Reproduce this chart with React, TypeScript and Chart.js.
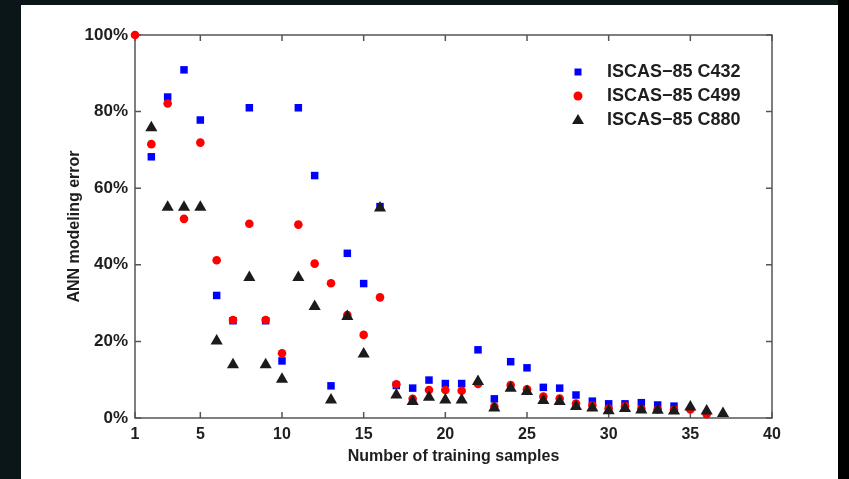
import React, { useEffect, useRef } from 'react';
import { Chart, registerables } from 'chart.js';

Chart.register(...registerables);

// ---- data ----
const xTickValues = [1, 5, 10, 15, 20, 25, 30, 35, 40];
const yTickValues = [0, 20, 40, 60, 80, 100];

const seriesNames = ['ISCAS\u221285 C432', 'ISCAS\u221285 C499', 'ISCAS\u221285 C880'];

const c432X = [2, 3, 4, 5, 6, 7, 8, 9, 10, 11, 12, 13, 14, 15, 16, 17, 18, 19, 20, 21, 22, 23, 24, 25, 26, 27, 28, 29, 30, 31, 32, 33, 34];
const c432Y = [68.2, 83.8, 90.9, 77.8, 32.0, 25.4, 81.0, 25.4, 14.9, 81.0, 63.3, 8.4, 43.0, 35.1, 55.2, 8.5, 7.8, 9.9, 9.0, 9.0, 17.8, 5.0, 14.7, 13.1, 8.0, 7.8, 6.0, 4.4, 3.7, 3.7, 4.0, 3.4, 3.1];

const c499X = [1, 2, 3, 4, 5, 6, 7, 8, 9, 10, 11, 12, 13, 14, 15, 16, 17, 18, 19, 20, 21, 22, 23, 24, 25, 26, 27, 28, 29, 30, 31, 32, 33, 34, 35, 36];
const c499Y = [100, 71.5, 82.1, 52.0, 71.9, 41.2, 25.6, 50.7, 25.6, 16.9, 50.5, 40.3, 35.2, 26.9, 21.7, 31.5, 8.8, 5.0, 7.3, 7.3, 7.1, 8.9, 3.0, 8.6, 7.5, 5.6, 5.1, 3.8, 3.3, 2.5, 3.1, 2.4, 2.2, 2.2, 2.2, 1.0];

const c880X = [2, 3, 4, 5, 6, 7, 8, 9, 10, 11, 12, 13, 14, 15, 16, 17, 18, 19, 20, 21, 22, 23, 24, 25, 26, 27, 28, 29, 30, 31, 32, 33, 34, 35, 36, 37];
const c880Y = [75.8, 55.0, 55.0, 55.0, 20.1, 13.9, 36.7, 13.9, 10.1, 36.7, 29.1, 4.7, 26.5, 16.7, 54.8, 6.0, 4.3, 5.4, 4.7, 4.7, 9.5, 2.6, 7.8, 6.9, 4.6, 4.3, 3.0, 2.6, 1.9, 2.5, 2.1, 2.0, 1.8, 2.9, 1.8, 1.2];

// ---- styles ----
const FONT = 'Liberation Sans, Arial, Helvetica, sans-serif';
const TEXT = '#1e1e1e';
const FRAME = '#555555';
const BLUE = '#0000ff';
const RED = '#ff0000';
const BLACK = '#1c1a1a';

const toPoints = (xs: number[], ys: number[]) => xs.map((x, i) => ({ x, y: ys[i] }));

const framePlugin = {
  id: 'frameTicks',
  beforeDatasetsDraw(chart: any) {
    const { ctx, chartArea, scales } = chart;
    const { left, right, top, bottom } = chartArea;
    const xs = scales.x;
    const ys = scales.y;
    ctx.save();
    ctx.strokeStyle = FRAME;
    ctx.lineWidth = 1.5;
    ctx.strokeRect(left, top, right - left, bottom - top);
    ctx.beginPath();
    const tl = 6;
    xs.ticks.forEach((t: any) => {
      const px = xs.getPixelForValue(t.value);
      ctx.moveTo(px, bottom);
      ctx.lineTo(px, bottom - tl);
      ctx.moveTo(px, top);
      ctx.lineTo(px, top + tl);
    });
    ys.ticks.forEach((t: any) => {
      const py = ys.getPixelForValue(t.value);
      ctx.moveTo(left, py);
      ctx.lineTo(left + tl, py);
      ctx.moveTo(right, py);
      ctx.lineTo(right - tl, py);
    });
    ctx.stroke();
    ctx.restore();
  },
};

const legendPlugin = {
  id: 'insideLegend',
  afterDraw(chart: any) {
    const { ctx } = chart;
    const mx = 578;
    const tx = 607;
    const y0 = 72;
    const gap = 24;
    ctx.save();
    chart.data.datasets.forEach((ds: any, i: number) => {
      const y = y0 + i * gap;
      ctx.fillStyle = ds.backgroundColor;
      ctx.beginPath();
      if (ds.pointStyle === 'rect') {
        ctx.rect(mx - 3.5, y - 3.5, 7, 7);
      } else if (ds.pointStyle === 'circle') {
        ctx.arc(mx, y, 4.5, 0, Math.PI * 2);
      } else {
        ctx.moveTo(mx, y - 6);
        ctx.lineTo(mx + 6, y + 4);
        ctx.lineTo(mx - 6, y + 4);
        ctx.closePath();
      }
      ctx.fill();
      ctx.fillStyle = TEXT;
      ctx.font = `bold 18px ${FONT}`;
      ctx.textAlign = 'left';
      ctx.textBaseline = 'middle';
      ctx.fillText(ds.label, tx, y);
    });
    ctx.restore();
  },
};

export default function App() {
  const canvasRef = useRef<HTMLCanvasElement | null>(null);

  useEffect(() => {
    const canvas = canvasRef.current;
    if (!canvas) return;
    const chart = new Chart(canvas, {
      type: 'scatter',
      data: {
        datasets: [
          {
            label: seriesNames[0],
            data: toPoints(c432X, c432Y),
            pointStyle: 'rect',
            pointRadius: 5.3,
            backgroundColor: BLUE,
            borderColor: BLUE,
            borderWidth: 0,
            order: 3,
          },
          {
            label: seriesNames[1],
            data: toPoints(c499X, c499Y),
            pointStyle: 'circle',
            pointRadius: 4.3,
            backgroundColor: RED,
            borderColor: RED,
            borderWidth: 0,
            order: 2,
          },
          {
            label: seriesNames[2],
            data: toPoints(c880X, c880Y),
            pointStyle: 'triangle',
            pointRadius: 7,
            backgroundColor: BLACK,
            borderColor: BLACK,
            borderWidth: 0,
            order: 1,
          },
        ] as any,
      },
      options: {
        responsive: false,
        animation: false,
        devicePixelRatio: 1,
        clip: false as any,
        layout: { padding: { left: 61, top: 35, right: 77, bottom: 9 } },
        plugins: {
          legend: { display: false },
          tooltip: { enabled: false },
        },
        scales: {
          x: {
            type: 'linear',
            min: 1,
            max: 40,
            grid: { display: false, drawTicks: false },
            border: { display: false },
            afterBuildTicks: (scale: any) => {
              scale.ticks = xTickValues.map((v) => ({ value: v }));
            },
            afterFit: (scale: any) => {
              scale.height = 52;
            },
            ticks: {
              padding: 7,
              color: TEXT,
              font: { family: FONT, size: 16, weight: 'bold' },
              maxRotation: 0,
              autoSkip: false,
              callback: (v: any) => String(v),
            },
            title: {
              display: true,
              text: 'Number of training samples',
              color: TEXT,
              font: { family: FONT, size: 16, weight: 'bold' },
            },
          },
          y: {
            type: 'linear',
            min: 0,
            max: 100,
            grid: { display: false, drawTicks: false },
            border: { display: false },
            afterBuildTicks: (scale: any) => {
              scale.ticks = yTickValues.map((v) => ({ value: v }));
            },
            afterFit: (scale: any) => {
              scale.width = 74;
            },
            ticks: {
              padding: 7,
              color: TEXT,
              font: { family: FONT, size: 17, weight: 'bold' },
              callback: (v: any) => `${v}%`,
            },
            title: {
              display: true,
              text: 'ANN modeling error',
              color: TEXT,
              font: { family: FONT, size: 16, weight: 'bold' },
            },
          },
        },
      } as any,
      plugins: [framePlugin, legendPlugin],
    });
    return () => chart.destroy();
  }, []);

  return (
    <div style={{ position: 'absolute', left: 0, top: 0, width: 849, height: 479, background: '#0a1618', overflow: 'hidden' }}>
      <div style={{ position: 'absolute', left: 838, top: 0, width: 11, height: 479, background: '#000' }} />
      <div style={{ position: 'absolute', left: 21, top: 5, width: 817, height: 474, background: '#ffffff' }} />
      <canvas ref={canvasRef} width={849} height={479} style={{ position: 'absolute', left: 0, top: 0, width: 849, height: 479 }} />
    </div>
  );
}
